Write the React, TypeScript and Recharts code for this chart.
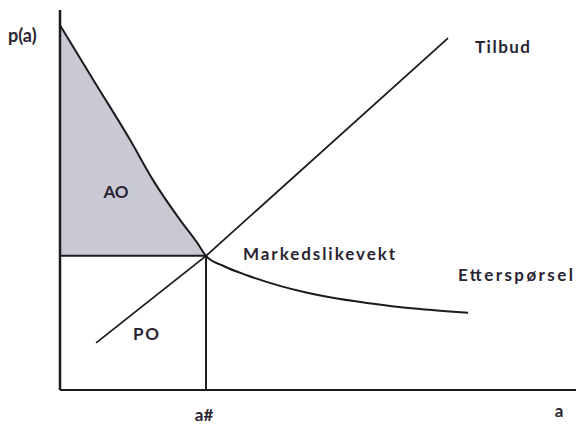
import {
  ComposedChart,
  Line,
  Area,
  XAxis,
  YAxis,
  ReferenceLine,
  ReferenceDot,
} from 'recharts';

// quantity (a) and price p(a), both on a 0-100 scale
const DEMAND_Q = [0, 7, 13.6, 18, 23.3, 26.6, 28.3, 31.6, 36.2, 42.6, 47.9, 52.3, 59.5, 69.8, 79.1];
const DEMAND_P = [96, 80.4, 65.8, 55.3, 44.7, 38.7, 35.3, 32.7, 30.2, 27.4, 25.6, 24.4, 22.9, 21.3, 20.3];

const SUPPLY_Q = [7.0, 28.3, 75.2];
const SUPPLY_P = [12.4, 35.3, 92.6];

const EQ_Q = 28.3;
const EQ_P = 35.3;

const demandData = DEMAND_Q.map((q, i) => ({ q, p: DEMAND_P[i] }));
const supplyData = SUPPLY_Q.map((q, i) => ({ q, p: SUPPLY_P[i] }));
const surplusData = DEMAND_Q.filter((q) => q <= EQ_Q).map((q, i) => ({
  q,
  range: [EQ_P, DEMAND_P[i]],
}));

const INK = '#1b1b1f';
const TEXT = '#2a2432';
const FONT = 'Lato, "Open Sans", sans-serif';

function Txt({ x, y, w, children, anchor = 'start', size = 17 }: { x: number; y: number; w?: number; children: string; anchor?: string; size?: number }) {
  return (
    <text
      x={x}
      y={y}
      fontFamily={FONT}
      fontWeight={700}
      fontSize={size}
      fill={TEXT}
      textAnchor={anchor}
      textLength={w}
      lengthAdjust="spacing"
    >
      {children}
    </text>
  );
}

export default function App() {
  return (
    <div style={{ width: 576, height: 424, background: '#fff' }}>
      <style>{'body{margin:0}'}</style>
      <ComposedChart width={576} height={424} margin={{ top: 10, right: 0, bottom: 34, left: 60 }}>
        <XAxis type="number" dataKey="q" domain={[0, 100]} hide />
        <YAxis type="number" domain={[0, 100]} hide />

        <Area
          data={surplusData}
          dataKey="range"
          type="monotone"
          stroke="none"
          fill="#c9c9d4"
          fillOpacity={1}
          isAnimationActive={false}
        />

        <ReferenceLine segment={[{ x: 0, y: EQ_P }, { x: EQ_Q, y: EQ_P }]} stroke={INK} strokeWidth={2} />
        <ReferenceLine segment={[{ x: EQ_Q, y: 0 }, { x: EQ_Q, y: EQ_P }]} stroke={INK} strokeWidth={2} />

        <Line
          data={supplyData}
          dataKey="p"
          type="linear"
          stroke={INK}
          strokeWidth={1.8}
          dot={false}
          isAnimationActive={false}
        />
        <Line
          data={demandData}
          dataKey="p"
          type="monotone"
          stroke={INK}
          strokeWidth={2}
          dot={false}
          isAnimationActive={false}
        />

        <ReferenceLine segment={[{ x: 0, y: 0 }, { x: 0, y: 100 }]} stroke={INK} strokeWidth={2.5} />
        <ReferenceLine segment={[{ x: 0, y: 0 }, { x: 100, y: 0 }]} stroke={INK} strokeWidth={1.8} />

        <ReferenceDot
          x={10.85}
          y={52.2}
          r={0}
          stroke="none"
          label={{
            value: 'AO',
            position: 'center',
            fill: TEXT,
            fontSize: 17,
            fontWeight: 700,
            fontFamily: FONT,
          }}
        />

        <Txt x={8} y={42} size={18}>p(a)</Txt>
        <Txt x={133} y={340} w={26}>PO</Txt>
        <Txt x={243} y={260} w={152}>Markedslikevekt</Txt>
        <Txt x={475} y={53} w={55}>Tilbud</Txt>
        <Txt x={458} y={281} w={115}>Etterspørsel</Txt>
        <Txt x={204} y={421} anchor="middle">a#</Txt>
        <Txt x={559} y={417} anchor="middle">a</Txt>
      </ComposedChart>
    </div>
  );
}
